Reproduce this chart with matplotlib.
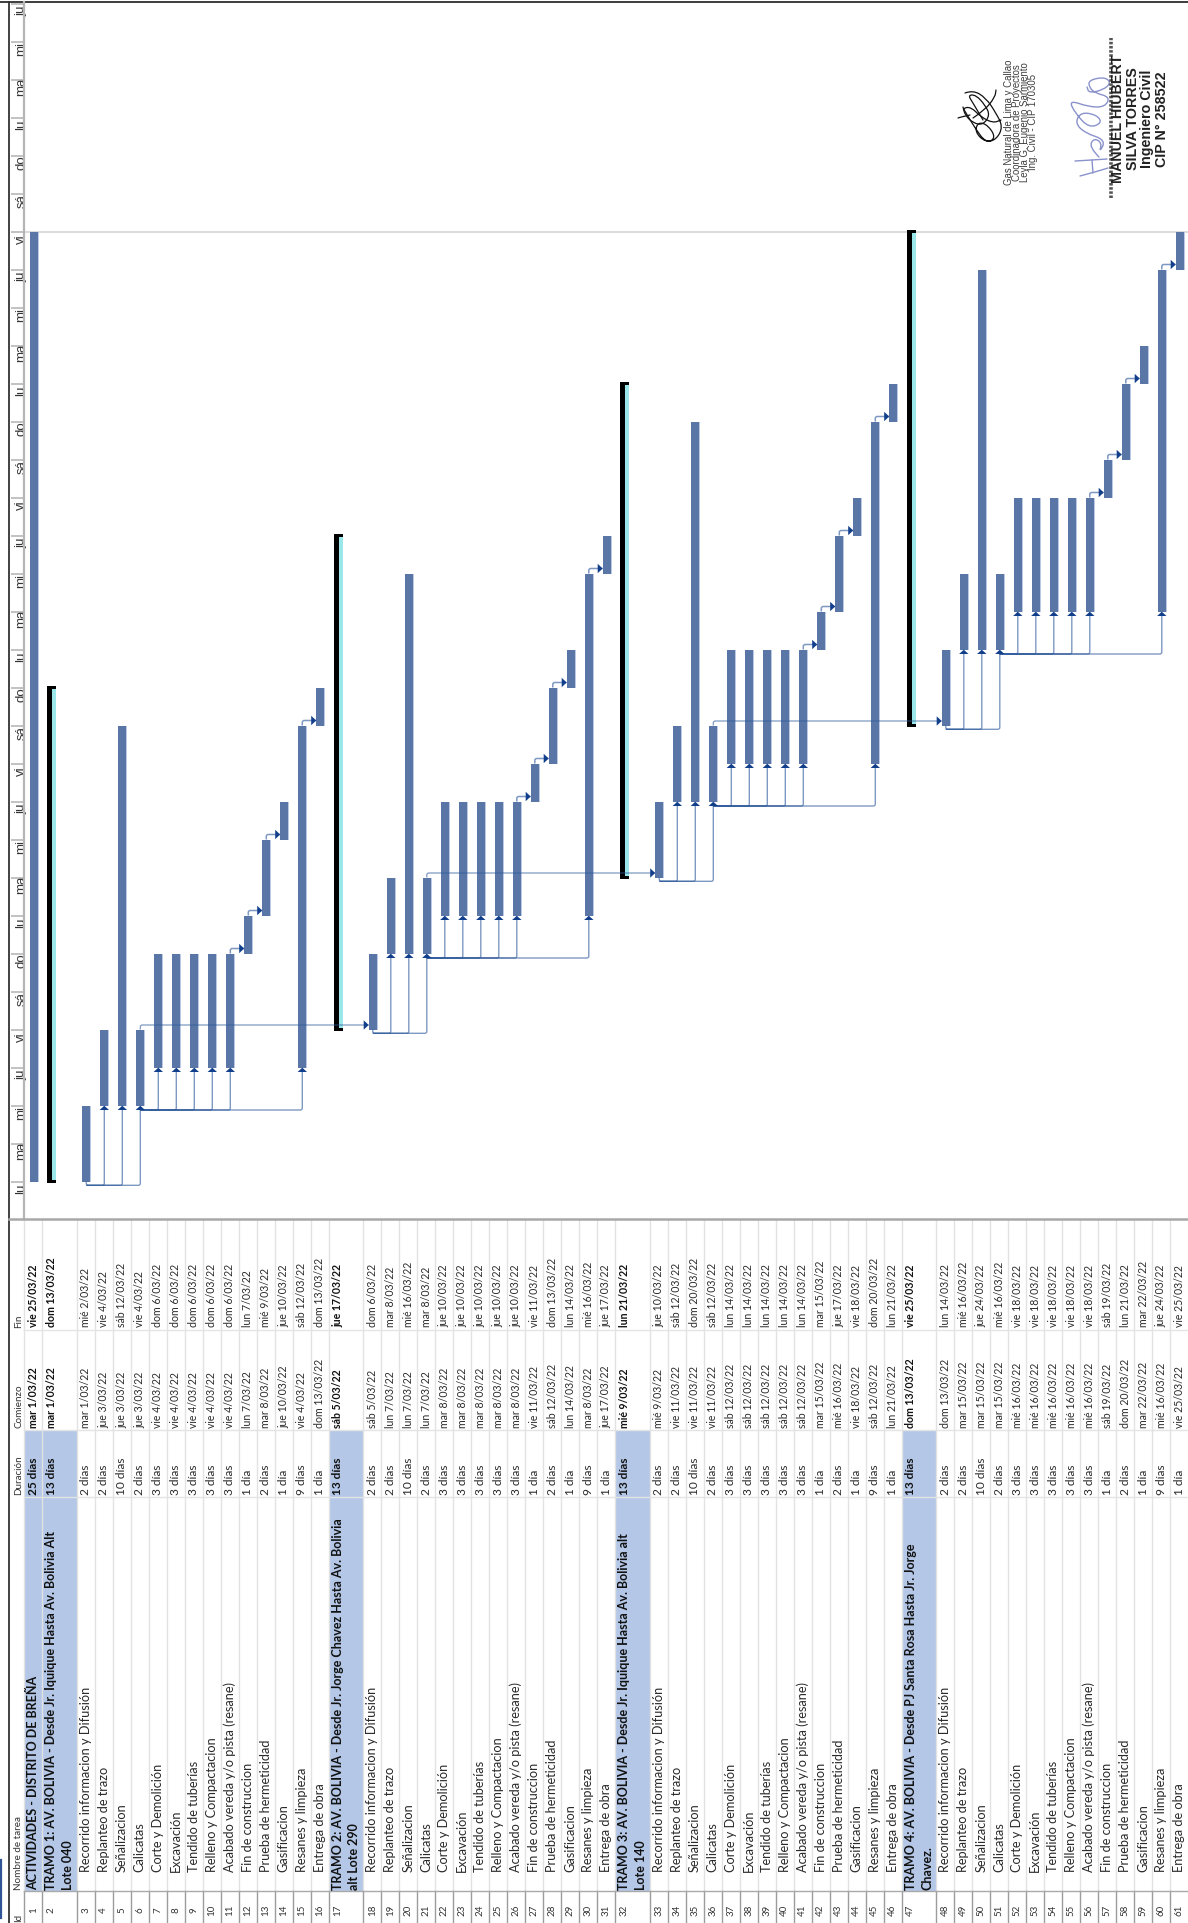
import re
import matplotlib
matplotlib.use('Agg')
import matplotlib.pyplot as plt
from matplotlib.path import Path
from matplotlib.patches import PathPatch, Rectangle

W, H = 1188, 1923

ids = list(range(1, 62))

task_block = ['Recorrido informacion y Difusión', 'Replanteo de trazo', 'Señalizacion',
              'Calicatas', 'Corte y Demolición', 'Excavación', 'Tendido de tuberías',
              'Relleno y Compactacion', 'Acabado vereda y/o pista (resane)',
              'Fin de construccion', 'Prueba de hermeticidad', 'Gasificacion',
              'Resanes y limpieza', 'Entrega de obra']
dur_block = ['2 días', '2 días', '10 días', '2 días', '3 días', '3 días', '3 días',
             '3 días', '3 días', '1 día', '2 días', '1 día', '9 días', '1 día']

names = (['ACTIVIDADES - DISTRITO DE BREÑA',
          'TRAMO 1: AV. BOLIVIA - Desde Jr. Iquique Hasta Av. Bolivia Alt\nLote 040'] + task_block
         + ['TRAMO 2: AV. BOLIVIA - Desde Jr. Jorge Chavez Hasta Av. Bolivia\nalt Lote 290'] + task_block
         + ['TRAMO 3: AV. BOLIVIA - Desde Jr. Iquique Hasta Av. Bolivia alt\nLote 140'] + task_block
         + ['TRAMO 4: AV. BOLIVIA - Desde PJ Santa Rosa Hasta Jr. Jorge\nChavez.'] + task_block)
durations = ['25 días', '13 días'] + dur_block + ['13 días'] + dur_block + ['13 días'] + dur_block + ['13 días'] + dur_block

starts = ['mar 1/03/22', 'mar 1/03/22',
          'mar 1/03/22', 'jue 3/03/22', 'jue 3/03/22', 'jue 3/03/22', 'vie 4/03/22', 'vie 4/03/22', 'vie 4/03/22',
          'vie 4/03/22', 'vie 4/03/22', 'lun 7/03/22', 'mar 8/03/22', 'jue 10/03/22', 'vie 4/03/22', 'dom 13/03/22',
          'sáb 5/03/22',
          'sáb 5/03/22', 'lun 7/03/22', 'lun 7/03/22', 'lun 7/03/22', 'mar 8/03/22', 'mar 8/03/22', 'mar 8/03/22',
          'mar 8/03/22', 'mar 8/03/22', 'vie 11/03/22', 'sáb 12/03/22', 'lun 14/03/22', 'mar 8/03/22', 'jue 17/03/22',
          'mié 9/03/22',
          'mié 9/03/22', 'vie 11/03/22', 'vie 11/03/22', 'vie 11/03/22', 'sáb 12/03/22', 'sáb 12/03/22', 'sáb 12/03/22',
          'sáb 12/03/22', 'sáb 12/03/22', 'mar 15/03/22', 'mié 16/03/22', 'vie 18/03/22', 'sáb 12/03/22', 'lun 21/03/22',
          'dom 13/03/22',
          'dom 13/03/22', 'mar 15/03/22', 'mar 15/03/22', 'mar 15/03/22', 'mié 16/03/22', 'mié 16/03/22', 'mié 16/03/22',
          'mié 16/03/22', 'mié 16/03/22', 'sáb 19/03/22', 'dom 20/03/22', 'mar 22/03/22', 'mié 16/03/22', 'vie 25/03/22']
finishes = ['vie 25/03/22', 'dom 13/03/22',
            'mié 2/03/22', 'vie 4/03/22', 'sáb 12/03/22', 'vie 4/03/22', 'dom 6/03/22', 'dom 6/03/22', 'dom 6/03/22',
            'dom 6/03/22', 'dom 6/03/22', 'lun 7/03/22', 'mié 9/03/22', 'jue 10/03/22', 'sáb 12/03/22', 'dom 13/03/22',
            'jue 17/03/22',
            'dom 6/03/22', 'mar 8/03/22', 'mié 16/03/22', 'mar 8/03/22', 'jue 10/03/22', 'jue 10/03/22', 'jue 10/03/22',
            'jue 10/03/22', 'jue 10/03/22', 'vie 11/03/22', 'dom 13/03/22', 'lun 14/03/22', 'mié 16/03/22', 'jue 17/03/22',
            'lun 21/03/22',
            'jue 10/03/22', 'sáb 12/03/22', 'dom 20/03/22', 'sáb 12/03/22', 'lun 14/03/22', 'lun 14/03/22', 'lun 14/03/22',
            'lun 14/03/22', 'lun 14/03/22', 'mar 15/03/22', 'jue 17/03/22', 'vie 18/03/22', 'dom 20/03/22', 'lun 21/03/22',
            'vie 25/03/22',
            'lun 14/03/22', 'mié 16/03/22', 'jue 24/03/22', 'mié 16/03/22', 'vie 18/03/22', 'vie 18/03/22', 'vie 18/03/22',
            'vie 18/03/22', 'vie 18/03/22', 'sáb 19/03/22', 'lun 21/03/22', 'mar 22/03/22', 'jue 24/03/22', 'vie 25/03/22']

summary_rows = [2, 17, 32, 47]
first_task_rows = [3, 18, 33, 48]

# labels of the day scale, from 28 Feb upwards
day_labels = ['lu', 'ma', 'mi', 'ju', 'vi', 'sá', 'do', 'lu', 'ma', 'mi', 'ju', 'vi', 'sá', 'do', 'lu', 'ma', 'mi',
              'ju', 'vi', 'sá', 'do', 'lu', 'ma', 'mi', 'ju', 'vi', 'sá', 'do', 'lu', 'ma', 'mi', 'ju']

# signature strokes (x, y in image pixels)
sign_black = [[(965, 93), (973, 90), (986, 98), (996, 113), (1003, 127), (996, 140), (985, 142), (975, 132), (978, 122),
               (988, 125), (996, 138), (986, 143), (975, 128), (966, 113), (963, 108), (971, 107), (981, 117), (993, 123),
               (1001, 120)],
              [(983, 120), (973, 103), (968, 95), (976, 95), (985, 105), (990, 115), (983, 125), (973, 123), (965, 115),
               (963, 107)],
              [(970, 115), (961, 117), (958, 118)],
              [(973, 118), (985, 110), (995, 97), (996, 90)]]
sign_blue = [[(1075, 161), (1092, 160), (1107, 159)],
             [(1080, 176), (1095, 172), (1108, 168)],
             [(1093, 173), (1092, 160)],
             [(1099, 157), (1089, 147), (1094, 138), (1102, 143), (1099, 153), (1106, 140), (1085, 133), (1075, 123),
              (1081, 112), (1097, 115), (1102, 123), (1089, 128), (1075, 113), (1069, 100), (1089, 107), (1105, 107),
              (1110, 97), (1095, 93), (1089, 87), (1089, 80), (1105, 77), (1111, 83), (1103, 90), (1089, 93), (1087, 87)]]

FONT = ['Lato', 'DejaVu Sans']
BLUE = '#5976A6'
EDGE = '#BCCAE3'
LINK = '#2F5A9C'
ARROW = '#123F8C'
FILL = '#B4C7E7'
CYAN = '#9AE6E8'


def day_of(s):
    return int(re.search(r'(\d+)/03', s).group(1))


# row edges along x, the summary rows are about twice as wide
row_left = {}
pos = 24.0
for i in ids:
    row_left[i] = pos
    pos += 34.5 if i in summary_rows else 18.0
row_width = {i: (34.5 if i in summary_rows else 18.0) for i in ids}
center = {i: row_left[i] + (9.8 if i not in summary_rows else 17.25) for i in ids}
d0 = {i: day_of(starts[i - 1]) - 1 for i in ids}
d1 = {i: day_of(finishes[i - 1]) for i in ids}

DAY_PX = 38.0
CHART_BOTTOM = 1218.5
fig = plt.figure(figsize=(W / 100, H / 100), dpi=100)

# chart part: x in pixels of the row scale, y in days since 1 March
ax = fig.add_axes([0, 1 - CHART_BOTTOM / H, 1, CHART_BOTTOM / H])
ax.set_xlim(0, W)
ax.set_ylim((1181.5 - CHART_BOTTOM) / DAY_PX, 1181.5 / DAY_PX)
ax.axis('off')
PX = 1 / DAY_PX


def link(points, lw=0.9):
    # polyline with small round corners
    r = 2.0
    verts = [points[0]]
    codes = [Path.MOVETO]
    for k in range(1, len(points) - 1):
        (x0, y0), (x1, y1), (x2, y2) = points[k - 1], points[k], points[k + 1]
        if x1 != x0:
            a = (x1 - r * (1 if x1 > x0 else -1), y1)
            b = (x1, y1 + r * PX * (1 if y2 > y1 else -1))
        else:
            a = (x1, y1 - r * PX * (1 if y1 > y0 else -1))
            b = (x1 + r * (1 if x2 > x1 else -1), y1)
        verts += [a, (x1, y1), b]
        codes += [Path.LINETO, Path.CURVE3, Path.CURVE3]
    verts.append(points[-1])
    codes.append(Path.LINETO)
    ax.add_patch(PathPatch(Path(verts, codes), fc='none', ec=LINK, lw=lw, alpha=0.62, zorder=5))


def arrow_up(x, day):
    ax.fill([x - 4.7, x + 4.7, x], [day - 4.5 * PX, day - 4.5 * PX, day - 0.2 * PX], color=ARROW, lw=0, zorder=6)


def arrow_right(x, day):
    ax.fill([x - 5, x - 5, x], [day + 4.7 * PX, day - 4.7 * PX, day], color=ARROW, lw=0, zorder=6)


def stroke(pts, col, w):
    # smooth pen stroke through the midpoints of the read points
    pts = [(x, (1181.5 - y) / DAY_PX) for x, y in pts]
    verts = [pts[0]]
    codes = [Path.MOVETO]
    for p, q in zip(pts[1:-1], pts[2:]):
        verts += [p, ((p[0] + q[0]) / 2, (p[1] + q[1]) / 2)]
        codes += [Path.CURVE3, Path.CURVE3]
    verts.append(pts[-1])
    codes.append(Path.LINETO)
    ax.add_patch(PathPatch(Path(verts, codes), fc='none', ec=col, lw=w, capstyle='round', zorder=2))


# day scale
for k, lab in enumerate(day_labels):
    d = k - 1
    ax.plot([11, 24], [d + 1, d + 1], color='#BDBDBD', lw=1.3, solid_capstyle='butt', zorder=2)
    ax.text(21.2, d + 1 - 7.5 * PX, lab, rotation=90, ha='center', va='center', fontsize=9.5,
            color='#333333', family=['Liberation Sans', 'DejaVu Sans'], zorder=3)

# bars
for i in ids:
    if i in summary_rows:
        left = row_left[i] + 5
        ax.bar(left + 2.5, d1[i] - d0[i], width=5, bottom=d0[i], color='black', lw=0, zorder=3)
        ax.bar(left + 7.1, d1[i] - d0[i] - 2 * PX, width=4.2, bottom=d0[i] + PX, color=CYAN, lw=0, zorder=3)
        ax.bar(left + 4.6, 3.5 * PX, width=9.2, bottom=d1[i] - 1.5 * PX, color='black', lw=0, zorder=4)
        ax.bar(left + 4.6, 3.5 * PX, width=9.2, bottom=d0[i] - 1.5 * PX, color='black', lw=0, zorder=4)
    else:
        ax.bar(center[i] + 0.8, d1[i] - d0[i], width=8.4, bottom=d0[i], color=EDGE, lw=0, zorder=3)
        ax.bar(center[i], d1[i] - d0[i], width=8.2, bottom=d0[i], color=BLUE, lw=0, zorder=3.5)

# links between the tasks of every tramo
for t, b in enumerate(first_task_rows):
    y = d0[b] - 3.8 * PX
    link([(center[b], d0[b]), (center[b], y), (center[b + 3], y), (center[b + 3], d0[b + 3] - 3 * PX)], lw=1.0)
    for r in (b + 1, b + 2):
        link([(center[b], y), (center[r], y), (center[r], d0[r] - 3 * PX)], lw=1.0)
    for r in (b + 1, b + 2, b + 3):
        arrow_up(center[r], d0[r])
    y = d0[b + 3] - 4.5 * PX
    for r in (b + 4, b + 5, b + 6, b + 7, b + 8, b + 12):
        link([(center[b + 3], y), (center[r], y), (center[r], d0[r] - 3 * PX)], lw=1.0)
        arrow_up(center[r], d0[r])
    # finish to start chain
    for r0, r1 in [(b + 8, b + 9), (b + 9, b + 10), (b + 10, b + 11), (b + 12, b + 13)]:
        y = d0[r1] + 5 * PX
        link([(center[r0], d1[r0]), (center[r0], y), (center[r1] - 4.2, y)], lw=1.1)
        arrow_right(center[r1] - 4.1, y)
    # jump to the next tramo
    if t < 3:
        r1 = first_task_rows[t + 1]
        y = d1[b + 3] + 4.5 * PX
        link([(center[b + 3], d1[b + 3]), (center[b + 3], y), (center[r1] - 4.2, y)])
        arrow_right(center[r1] - 4.1, y)

# page limit line
ax.plot([24, W], [25, 25], color='#D4D4D4', lw=1.2, zorder=1)

# signature block
SIG = ['Liberation Sans', 'DejaVu Sans']
for xp, txt in zip([1008.5, 1017, 1025, 1033],
                   ['Gas Natural de Lima y Callao', 'Coordinadora de Proyectos',
                    'Leyla G. Eugenio Sarmiento', 'Ing. Civil - CIP 170305']):
    ax.text(xp, (1181.5 - 122.5) / DAY_PX, txt, rotation=90, ha='center', va='center', fontsize=6.9,
            color='#3c3c3c', family=SIG)
for xp, txt in zip([1118, 1133, 1147, 1161.7],
                   ['MANUEL HIUBERT', 'SILVA TORRES', 'Ingeniero Civil', 'CIP N° 258522']):
    ax.text(xp, (1181.5 - 119) / DAY_PX, txt, rotation=90, ha='center', va='center', fontsize=10.3,
            color='#222222', family=SIG, fontweight='bold', zorder=4)
ax.plot([1111, 1111], [(1181.5 - 198) / DAY_PX, (1181.5 - 38) / DAY_PX], color='#555555', lw=2.6,
        ls=(0, (0.7, 0.45)), zorder=3)
for s in sign_black:
    stroke(s, '#111111', 0.9)
for s in sign_blue:
    stroke(s, '#8A92CC', 1.0)

# table part: x as above, y in image pixels
tb = fig.add_axes([0, 0, 1, 1 - CHART_BOTTOM / H])
tb.set_xlim(0, W)
tb.set_ylim(H, CHART_BOTTOM)
tb.axis('off')

FIN_END, COM_END, DUR_END, NAME_END = 1329.5, 1430.0, 1496.5, 1891.0

for i in [1] + summary_rows:
    tb.add_patch(Rectangle((row_left[i], COM_END), row_width[i], NAME_END - COM_END, color=FILL, lw=0, zorder=1))
for i in ids:
    tb.plot([row_left[i], row_left[i]], [CHART_BOTTOM, NAME_END], color='#E2E2E2', lw=1, zorder=2)
    tb.plot([row_left[i], row_left[i]], [NAME_END, H], color='#9C9C9C', lw=1, zorder=2)
for yp in [FIN_END, COM_END, DUR_END]:
    tb.plot([24, W], [yp, yp], color='#E4E4E4', lw=1, zorder=1.5)
tb.plot([24, W], [NAME_END, NAME_END], color='#A9A9A9', lw=1, zorder=2)

# header row
for yp, txt in zip([FIN_END - 2, COM_END - 2, DUR_END - 1.5, NAME_END - 1, 1922],
                   ['Fin', 'Comienzo', 'Duración', 'Nombre de tarea', 'Id']):
    tb.text(19, yp, txt, rotation=90, ha='center', va='bottom', fontsize=7.1, color='#333333', family=FONT,
            clip_on=True)

# rows
for i in ids:
    bold = i == 1 or i in summary_rows
    w = 'bold' if bold else 'normal'
    xc = row_left[i] + 9.2
    col = '#111111' if bold else '#2a2a2a'
    tb.text(xc, 1910, str(i), rotation=90, ha='center', va='center', fontsize=7, color='#333333', family=FONT)
    tb.text(xc, FIN_END - 2.5, finishes[i - 1], rotation=90, ha='center', va='bottom', fontsize=7.6, color=col,
            fontweight=w, family=FONT)
    tb.text(xc, COM_END - 2.5, starts[i - 1], rotation=90, ha='center', va='bottom', fontsize=7.6, color=col,
            fontweight=w, family=FONT)
    tb.text(xc, DUR_END - 1.5, durations[i - 1], rotation=90, ha='center', va='bottom', fontsize=8.6, color=col,
            fontweight=w, family=FONT)
    if bold:
        for n, line in enumerate(names[i - 1].split('\n')):
            tb.text(xc + n * 16.7, NAME_END - 1.5, line, rotation=90, ha='center', va='bottom', fontsize=9, color=col,
                    fontweight=w, family=FONT)
    else:
        tb.text(xc, 1872.5, names[i - 1], rotation=90, ha='center', va='bottom', fontsize=9.2, color=col, family=FONT)

# frame lines over the whole picture
frame = fig.add_axes([0, 0, 1, 1], zorder=10)
frame.set_xlim(0, W)
frame.set_ylim(H, 0)
frame.axis('off')
frame.patch.set_alpha(0)
frame.plot([0, W], [2, 2], color='#3c3c3c', lw=1.4)
frame.plot([9.3, 9.3], [2, H], color='#333333', lw=1.3)
frame.plot([24, 24], [2, CHART_BOTTOM], color='#B5B5B5', lw=1.6)
frame.plot([9.3, W], [CHART_BOTTOM, CHART_BOTTOM], color='#A8A8A8', lw=1.8)
frame.plot([0.6, 0.6], [1860, 1918], color='#2F5597', lw=1.6)

fig.savefig('out.png', dpi=100, facecolor='white')
